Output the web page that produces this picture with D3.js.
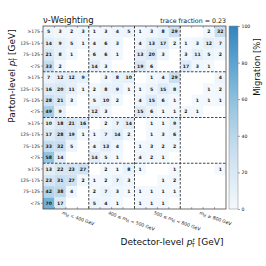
<!DOCTYPE html>
<html lang="en">
<head>
<meta charset="UTF-8">
<title>Migration matrix</title>
<script src="https://d3js.org/d3.v7.min.js"></script>
<style>
    body { margin: 0; background: #fff; font-family: "DejaVu Sans", sans-serif; }
    .cell-text { font-size: 4.6px; font-weight: bold; fill: #1a1a1a; text-anchor: middle; }
    .ylab { font-size: 4.6px; fill: #222; text-anchor: end; }
    .xlab { font-size: 4.6px; fill: #222; }
</style>
</head>
<body>
<svg width="266" height="266"></svg>
<script>
// parton-level blocks, top to bottom; detector-level blocks, left to right
const massBlocks = [["", " < 400 GeV"], ["400 ≤ ", " < 500 GeV"], ["500 ≤ ", " < 800 GeV"], ["", " ≥ 800 GeV"]];
const ptBins = ["≥175", "125–175", "75–125", "<75"];   // rows within a block, top to bottom
const cbTicks = [0, 20, 40, 60, 80, 100];

// migration [%], rows top to bottom, columns left to right (null = empty)
const migration = [
    [ 5,  3,  2,  3,    1,  3,  4,  5,    1,  3,  8, 29,    null, null, 2, 32],
    [14,  9,  5,  1,    4,  6,  3, null,  4, 13, 17,  2,    1,  3, 12,  7],
    [21,  8,  1, null,  6,  6,  1, null, 13, 20,  3, null,  3, 11,  5,  2],
    [33,  2, null, null, 14, 3, null, null, 19, 6, null, null, 17, 3,  1, null],
    [ 7, 12, 12,  9,  null, 3,  8, 10,  null, 1,  4, 29,  null, null, null, 4],
    [16, 20, 11,  1,    2,  8,  9,  1,    1,  5, 15,  8,  null, null, 1,  2],
    [28, 21,  3, null,  5, 10,  2, null,  4, 15,  6,  1,  null, 1,  1,  1],
    [49,  9, null, null, 12, 3, null, null, 15, 6,  1,  1,    2,  1, null, null],
    [10, 18, 21, 16,  null, 2,  7, 14,  null, 1,  1,  9,  null, null, null, null],
    [17, 28, 19,  1,    1,  7, 14,  2,  null, 1,  3,  6,  null, null, null, null],
    [33, 32,  5, null,  4, 13,  4, null,  1,  3,  2,  2,  null, null, null, null],
    [58, 14, null, null, 14, 5,  1, null,  4,  2,  1, null, null, null, null, null],
    [13, 22, 23, 27,  null, 2,  1,  8,    1, null, null, 1, null, null, null, 1],
    [23, 31, 27,  2,    1,  2,  7,  3,  null, null, 1,  2, null, null, null, null],
    [42, 38,  4, null,  2,  7,  3,  1,    1,  1,  1,  1,  null, null, null, null],
    [70, 17, null, null, 5, 4,  1, null,  1,  1,  1, null, null, null, null, null]
];

const svg = d3.select("svg");
const gLeft = 43, gRight = 226, gTop = 26, gBottom = 209;
const n = migration.length;

const x = d3.scaleBand().domain(d3.range(n)).range([gLeft, gRight]);
const y = d3.scaleBand().domain(d3.range(n)).range([gTop, gBottom]);
const color = d3.scaleSequential(t => d3.interpolateBlues(0.02 + 0.66 * t)).domain([0, 100]);

const cells = [];
migration.forEach((row, r) => row.forEach((v, c) => cells.push({r, c, v})));

// cells
svg.append("g").selectAll("rect")
    .data(cells.filter(d => d.v !== null))
    .join("rect")
    .attr("x", d => x(d.c))
    .attr("y", d => y(d.r))
    .attr("width", x.bandwidth())
    .attr("height", y.bandwidth())
    .attr("fill", d => color(d.v));

svg.append("g").selectAll("text")
    .data(cells.filter(d => d.v !== null))
    .join("text")
    .attr("class", "cell-text")
    .attr("x", d => x(d.c) + x.bandwidth() / 2)
    .attr("y", d => y(d.r) + y.bandwidth() / 2 + 1.6)
    .text(d => d.v);

// minor ticks at cell edges, pointing in
const edges = d3.range(1, n);
const ticks = svg.append("g").attr("stroke", "#555").attr("stroke-width", 0.5);
edges.forEach(i => {
    const xe = x(i);
    ticks.append("line").attr("x1", xe).attr("x2", xe).attr("y1", gTop).attr("y2", gTop + 2);
    ticks.append("line").attr("x1", xe).attr("x2", xe).attr("y1", gBottom).attr("y2", gBottom - 2);
});

// block separators
const sep = svg.append("g").attr("stroke", "#333").attr("stroke-width", 0.9).attr("stroke-dasharray", "2.5,1.5");
[4, 8, 12].forEach(i => {
    sep.append("line").attr("x1", x(i)).attr("x2", x(i)).attr("y1", gTop).attr("y2", gBottom);
    sep.append("line").attr("y1", y(i)).attr("y2", y(i)).attr("x1", gLeft).attr("x2", gRight);
});

svg.append("rect")
    .attr("x", gLeft).attr("y", gTop)
    .attr("width", gRight - gLeft).attr("height", gBottom - gTop)
    .attr("fill", "none").attr("stroke", "#333").attr("stroke-width", 0.7);

// y tick labels
const yl = svg.append("g");
d3.range(n).forEach(r => {
    const yc = y(r) + y.bandwidth() / 2;
    yl.append("line").attr("x1", gLeft - 2).attr("x2", gLeft).attr("y1", yc).attr("y2", yc)
        .attr("stroke", "#444").attr("stroke-width", 0.5);
    yl.append("text").attr("class", "ylab").attr("x", gLeft - 3).attr("y", yc + 1.6).text(ptBins[r % 4]);
});

// x block labels, rotated
massBlocks.forEach((parts, b) => {
    const xc = x(b * 4) + 2 * x.bandwidth() - 4;
    const t = svg.append("text").attr("class", "xlab")
        .attr("transform", `translate(${xc},${gBottom + 5}) rotate(20)`);
    t.append("tspan").text(parts[0]);
    t.append("tspan").attr("font-style", "italic").text("m");
    t.append("tspan").attr("dy", 1).attr("font-size", "3.4px").text("tt̄");
    t.append("tspan").attr("dy", -1).text(parts[1]);
});

// colorbar
const cbX = 229, cbW = 9;
const cbScale = d3.scaleLinear().domain([0, 100]).range([gBottom, gTop]);
const defs = svg.append("defs");
const grad = defs.append("linearGradient").attr("id", "cb").attr("x1", 0).attr("y1", 1).attr("x2", 0).attr("y2", 0);
d3.range(0, 1.01, 0.1).forEach(t => {
    grad.append("stop").attr("offset", t).attr("stop-color", color(t * 100));
});
svg.append("rect").attr("x", cbX).attr("y", gTop).attr("width", cbW).attr("height", gBottom - gTop)
    .attr("fill", "url(#cb)").attr("stroke", "#888").attr("stroke-width", 0.5);
const cbAxis = svg.append("g").attr("transform", `translate(${cbX + cbW},0)`)
    .call(d3.axisRight(cbScale).tickValues(cbTicks).tickSize(2).tickPadding(1.5));
cbAxis.select(".domain").remove();
cbAxis.selectAll("line").attr("stroke", "#444").attr("stroke-width", 0.5);
cbAxis.selectAll("text").attr("font-size", "4.6px").attr("fill", "#222").attr("font-family", "DejaVu Sans");

svg.append("text")
    .attr("transform", `translate(260,67) rotate(-90)`)
    .attr("text-anchor", "middle")
    .attr("font-size", "8.5px").attr("fill", "#111")
    .text("Migration [%]");

// titles
svg.append("text").attr("x", gLeft).attr("y", 23)
    .attr("font-size", "8.5px").attr("fill", "#111")
    .text("ν-Weighting");
svg.append("text").attr("x", gRight).attr("y", 22.5).attr("text-anchor", "end")
    .attr("font-size", "6.3px").attr("fill", "#111")
    .text("trace fraction = 0.23");

// axis titles
function ptLabel(sel, prefix) {
    sel.append("tspan").text(prefix);
    sel.append("tspan").attr("font-style", "italic").text("p");
    sel.append("tspan").attr("font-size", "5.5px").attr("dy", -3.2).attr("font-style", "italic").text("t");
    sel.append("tspan").attr("font-size", "5.5px").attr("dx", -3).attr("dy", 5.6).text("T");
    sel.append("tspan").attr("dy", -2.4).text(" [GeV]");
}
const xt = svg.append("text").attr("x", 172).attr("y", 245).attr("text-anchor", "middle")
    .attr("font-size", "9px").attr("fill", "#111");
ptLabel(xt, "Detector-level ");

const yt = svg.append("text").attr("transform", "translate(15,76) rotate(-90)").attr("text-anchor", "middle")
    .attr("font-size", "9px").attr("fill", "#111");
ptLabel(yt, "Parton-level ");
</script>
</body>
</html>
